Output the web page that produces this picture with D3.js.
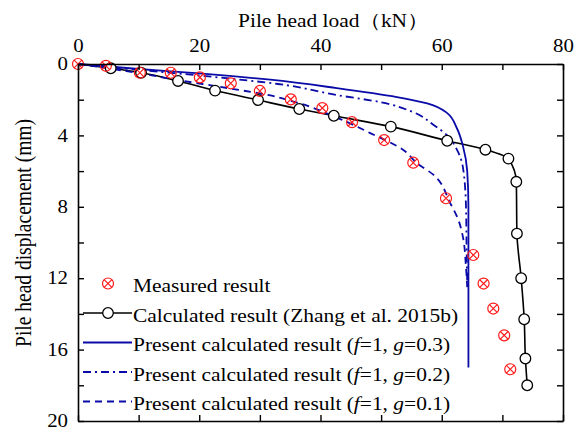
<!DOCTYPE html>
<html>
<head>
<meta charset="utf-8">
<script src="https://cdn.jsdelivr.net/npm/d3@7"></script>
<style>
    body { margin: 0; background: #fff; }
    svg text { font-family: "Liberation Serif", "Times New Roman", serif; fill: #000; }
</style>
</head>
<body>
<svg id="chart" width="580" height="430"></svg>
<script>
// measured result: [load kN, displacement mm]
const measured = [
    [0, 0], [4.6, 0.1], [10.2, 0.49], [15.3, 0.49], [20.1, 0.75], [25.2, 1.08],
    [30.0, 1.51], [35.1, 1.98], [40.3, 2.47], [45.2, 3.26], [50.5, 4.26],
    [55.3, 5.53], [60.7, 7.52], [65.2, 10.7], [66.9, 12.3], [68.5, 13.7],
    [70.3, 15.2], [71.3, 17.1]
];
// Zhang et al. 2015b
const zhang = [
    [0, 0], [5.4, 0.24], [10.4, 0.49], [16.5, 0.95], [22.6, 1.49], [29.7, 2.02],
    [36.5, 2.52], [42.2, 2.9], [51.6, 3.51], [60.9, 4.3], [67.2, 4.8],
    [71.0, 5.3], [72.3, 6.6], [72.4, 9.5], [73.1, 12.0], [73.6, 14.3],
    [73.8, 16.5], [74.1, 18.0]
];
const g03 = [
    [0, 0], [10, 0.28], [20, 0.52], [31.7, 0.88], [42.7, 1.35], [52.6, 1.85],
    [57.6, 2.2], [60.9, 2.75], [62.5, 3.6], [63.5, 4.6], [64.2, 6.0],
    [64.4, 8.0], [64.4, 17.0]
];
const g02 = [
    [0, 0], [10, 0.33], [22, 0.71], [33, 1.12], [42.7, 1.74], [49.8, 2.13],
    [55.3, 2.7], [58.6, 3.4], [60.9, 4.0], [62.5, 4.8], [63.5, 5.8],
    [64.0, 8.0], [64.1, 10.4], [64.2, 12.3]
];
const g01 = [
    [0, 0], [8, 0.4], [16.5, 0.9], [24.7, 1.35], [31.5, 1.75], [35, 2.05],
    [42.7, 3.0], [48.2, 3.87], [53.6, 4.8], [55.9, 5.55], [58.6, 6.2],
    [61.4, 7.8], [62.7, 8.7], [63.5, 9.7], [64.0, 11.4], [64.2, 12.5]
];

const xTicks = [0, 10, 20, 30, 40, 50, 60, 70, 80];
const yTicks = [0, 2, 4, 6, 8, 10, 12, 14, 16, 18, 20];

const legendItems = [
    { kind: 'measured', label: ['Measured result'] },
    { kind: 'zhang', label: ['Calculated result (Zhang et al. 2015b)'] },
    { kind: 'g03', label: ['Present calculated result (', ['f'], '=1, ', ['g'], '=0.3)'] },
    { kind: 'g02', label: ['Present calculated result (', ['f'], '=1, ', ['g'], '=0.2)'] },
    { kind: 'g01', label: ['Present calculated result (', ['f'], '=1, ', ['g'], '=0.1)'] },
];

const blue = '#0a0aa8';
const dashes = { g03: null, g02: '8,4,2,4', g01: '7,5' };
const stretchX = 1.16;   // the figure's text is a little wider than tall

let svg = d3.select('#chart');
let mLeft = 78, mRight = 563, mTop = 64, mBottom = 421;

let x = d3.scaleLinear().domain([0, 80]).range([mLeft, mRight]);
let y = d3.scaleLinear().domain([0, 20]).range([mTop, mBottom]);

// axes with inner ticks
let axTop = d3.axisTop(x).tickValues(xTicks).tickSizeInner(-6).tickSizeOuter(0).tickPadding(12)
    .tickFormat((d) => { return d % 20 === 0 ? d : ''; });
let axBottom = d3.axisBottom(x).tickValues(xTicks).tickSizeInner(-6).tickSizeOuter(0).tickFormat('');
let axLeft = d3.axisLeft(y).tickValues(yTicks).tickSizeInner(-6).tickSizeOuter(0).tickPadding(10)
    .tickFormat((d) => { return d % 4 === 0 ? d : ''; });
let axRight = d3.axisRight(y).tickValues(yTicks).tickSizeInner(-6).tickSizeOuter(0).tickFormat('');

function stretch (sel) {
    sel.each(function () {
        let t = d3.select(this);
        let xv = +t.attr('x') || 0;
        let yv = +t.attr('y') || 0;
        t.attr('x', 0).attr('y', 0)
            .attr('transform', 'translate(' + xv + ',' + yv + ') scale(' + stretchX + ',1)');
    });
}

function styleAxis (g) {
    g.select('.domain').attr('stroke', '#000').attr('stroke-width', 1.6);
    g.selectAll('.tick line').attr('stroke', '#000').attr('stroke-width', 1.4);
    g.selectAll('.tick text')
        .attr('font-family', '"Liberation Serif", serif')
        .attr('font-size', 18)
        .attr('fill', '#000')
        .call(stretch);
}

let lineGen = d3.line()
    .x((d) => { return x(d[0]); })
    .y((d) => { return y(d[1]); })
    .curve(d3.curveMonotoneY);

let plot = svg.append('g');

plot.append('path').datum(zhang)
    .attr('d', lineGen).attr('fill', 'none').attr('stroke', '#000').attr('stroke-width', 1.6);

[['g01', g01], ['g02', g02], ['g03', g03]].forEach((p) => {
    plot.append('path').datum(p[1])
        .attr('d', lineGen)
        .attr('fill', 'none')
        .attr('stroke', blue)
        .attr('stroke-width', 1.8)
        .attr('stroke-dasharray', dashes[p[0]]);
});

function drawMeasured (g, cx, cy) {
    let r = 5.5;
    let k = r * 0.7;
    let m = g.append('g').attr('transform', 'translate(' + cx + ',' + cy + ')');
    m.append('circle').attr('r', r).attr('fill', 'none').attr('stroke', '#ff1a1a').attr('stroke-width', 1.2);
    m.append('path').attr('d', 'M' + (-k) + ',' + (-k) + 'L' + k + ',' + k + 'M' + (-k) + ',' + k + 'L' + k + ',' + (-k))
        .attr('stroke', '#ff1a1a').attr('stroke-width', 1.2);
}

function drawCircle (g, cx, cy) {
    g.append('circle').attr('cx', cx).attr('cy', cy).attr('r', 5.3)
        .attr('fill', '#fff').attr('stroke', '#000').attr('stroke-width', 1.3);
}

zhang.slice(1).forEach((d) => { drawCircle(plot, x(d[0]), y(d[1])); });
measured.forEach((d) => { drawMeasured(plot, x(d[0]), y(d[1])); });

svg.append('g').attr('transform', 'translate(0,' + mTop + ')').call(axTop).call(styleAxis);
svg.append('g').attr('transform', 'translate(0,' + mBottom + ')').call(axBottom).call(styleAxis);
svg.append('g').attr('transform', 'translate(' + mLeft + ',0)').call(axLeft).call(styleAxis);
svg.append('g').attr('transform', 'translate(' + mRight + ',0)').call(axRight).call(styleAxis);

// titles
svg.append('text')
    .attr('x', 238).attr('y', 27)
    .attr('font-size', 18.5)
    .text('Pile head load（kN）')
    .call(stretch);

svg.append('text')
    .attr('transform', 'translate(31,' + 233 + ') rotate(-90) scale(1,' + stretchX + ')')
    .attr('text-anchor', 'middle')
    .attr('font-size', 19.5)
    .text('Pile head displacement (mm)');

// legend
let lg = svg.append('g');
legendItems.forEach((item, i) => {
    let base = 292 + i * 29.5;
    let ly = base - 8.5;
    if (item.kind === 'measured') {
        drawMeasured(lg, 108, ly);
    } else if (item.kind === 'zhang') {
        lg.append('line').attr('x1', 83).attr('x2', 132).attr('y1', ly).attr('y2', ly)
            .attr('stroke', '#000').attr('stroke-width', 1.6);
        drawCircle(lg, 108, ly);
    } else {
        lg.append('line').attr('x1', 83).attr('x2', 132).attr('y1', ly).attr('y2', ly)
            .attr('stroke', blue).attr('stroke-width', 1.8)
            .attr('stroke-dasharray', dashes[item.kind]);
    }
    let t = lg.append('text').attr('x', 133).attr('y', base).attr('font-size', 18.5);
    item.label.forEach((part) => {
        if (Array.isArray(part))
            t.append('tspan').attr('font-style', 'italic').text(part[0]);
        else
            t.append('tspan').text(part);
    });
    t.call(stretch);
});
</script>
</body>
</html>
